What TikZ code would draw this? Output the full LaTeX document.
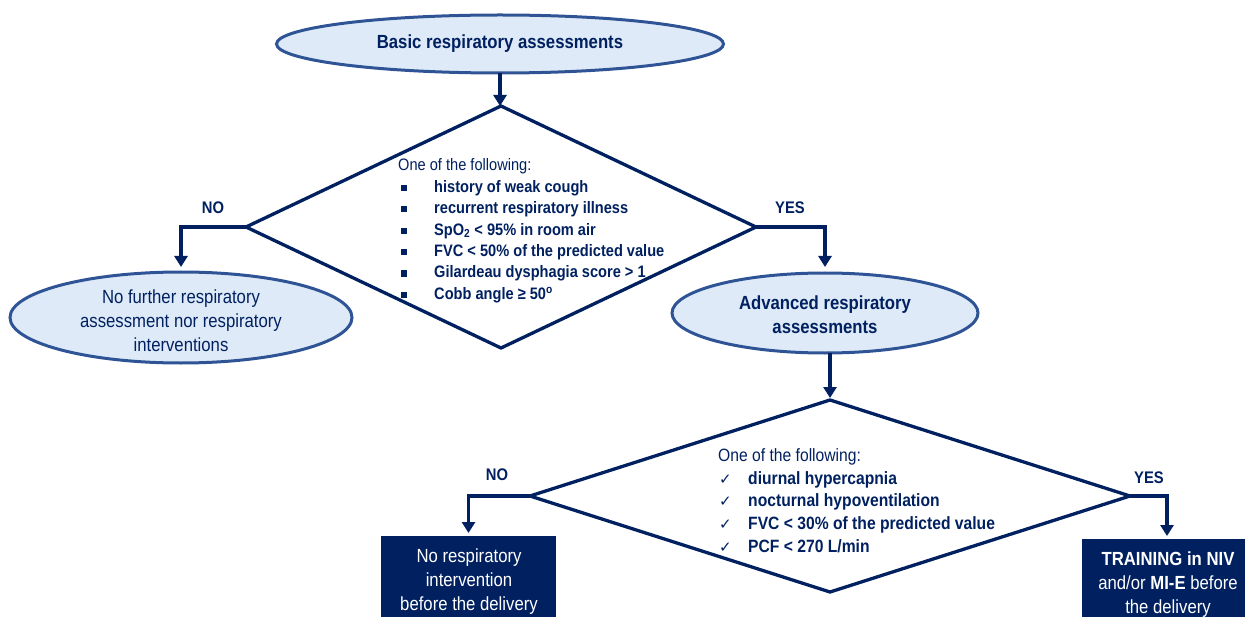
\documentclass[tikz,border=0pt]{standalone}
\usepackage{fontspec}
\setmainfont{Liberation Sans}[FakeStretch=0.88]
\newfontfamily\dvfont{DejaVu Sans}
\usetikzlibrary{shapes.geometric,arrows.meta}
\definecolor{navy}{RGB}{0,32,96}
\definecolor{efill}{RGB}{222,234,247}
\definecolor{eborder}{RGB}{47,84,150}
\newcommand{\sqbul}{\makebox[36pt][l]{\hspace{3pt}\raisebox{1.5pt}{\rule{6pt}{6pt}}}}
\newcommand{\chk}{\makebox[30pt][l]{\hspace{1pt}{\dvfont\fontsize{15}{15}\selectfont ✓}}}
\begin{document}
\begin{tikzpicture}[x=1pt,y=-1pt,
  oval/.style={ellipse,draw=eborder,fill=efill,line width=3pt,inner sep=0pt,outer sep=0pt},
  decision/.style={diamond,draw=navy,line width=3.3pt,inner sep=0pt,outer sep=0pt},
  endbox/.style={rectangle,fill=navy,inner sep=0pt,outer sep=0pt},
  flow/.style={draw=navy,line width=3.5pt,-{Triangle[width=13pt,length=11pt]}},
  big/.style={font=\fontsize{19}{24}\selectfont,text=navy,align=center,inner sep=0pt},
  lbl/.style={font=\fontsize{16.8}{20}\selectfont\bfseries,text=navy,inner sep=0pt},
  list/.style={anchor=base west,align=left,text=navy,inner sep=0pt}
]
\useasboundingbox (0,0) rectangle (1246,617);

% shapes
\node[oval,minimum width=447pt,minimum height=58pt] (e1) at (500,44) {};
\node[big,font=\fontsize{19}{24}\selectfont\bfseries] (e1t) at (e1.center) {Basic respiratory assessments};

\node[decision,minimum width=510pt,minimum height=242pt] (d1) at (501,227) {};
\node[list,font=\fontsize{16.6}{21.4}\selectfont] (d1t) at (398,299.4) {One of the following:\\
\sqbul\textbf{history of weak cough}\\
\sqbul\textbf{recurrent respiratory illness}\\
\sqbul\textbf{SpO\textsubscript{2} < 95\% in room air}\\
\sqbul\textbf{FVC < 50\% of the predicted value}\\
\sqbul\textbf{Gilardeau dysphagia score > 1}\\
\sqbul\textbf{Cobb angle ≥ 50\textsuperscript{o}}};

\node[oval,minimum width=342pt,minimum height=91pt] (e2) at (181,317.5) {};
\node[big] (e2t) at (181,320.5) {No further respiratory\\assessment nor respiratory\\interventions};

\node[oval,minimum width=306pt,minimum height=80pt] (e3) at (825,313) {};
\node[big,font=\fontsize{19}{24}\selectfont\bfseries] (e3t) at (825,315) {Advanced respiratory\\assessments};

\node[decision,minimum width=600pt,minimum height=192pt] (d2) at (830,496) {};
\node[list,font=\fontsize{17.8}{22.7}\selectfont] (d2t) at (718,552.3) {One of the following:\\
\chk\textbf{diurnal hypercapnia}\\
\chk\textbf{nocturnal hypoventilation}\\
\chk\textbf{FVC < 30\% of the predicted value}\\
\chk\textbf{PCF < 270 L/min}};

\node[endbox,minimum width=175pt,minimum height=81pt] (b1) at (468.5,576.5) {};
\node[big,text=white] (b1t) at (469,582) {No respiratory\\intervention\\before the delivery};

\node[endbox,minimum width=163pt,minimum height=78pt] (b2) at (1163.5,578) {};
\node[big,text=white] (b2t) at (1168,585) {\textbf{TRAINING in NIV}\\and/or \textbf{MI-E} before\\the delivery};

% labels
\node[lbl] (no1) at (213,208) {NO};
\node[lbl] (yes1) at (790,208) {YES};
\node[lbl] (no2) at (497,475) {NO};
\node[lbl] (yes2) at (1149,478) {YES};

% connectors
\draw[flow] (e1.south) -- (e1.south |- d1.north);
\draw[flow,shorten >=5pt] (d1.west) -| (e2.north);
\draw[flow,shorten >=6pt] (d1.east) -| (e3.north);
\draw[flow,shorten >=2pt] (e3.south -| d2.north) -- (d2.north);
\draw[flow,shorten >=3pt] (d2.west) -| (b1.north);
\draw[flow,shorten >=3pt] (d2.east) -| ([xshift=3.5pt]b2.north);
\end{tikzpicture}
\end{document}
